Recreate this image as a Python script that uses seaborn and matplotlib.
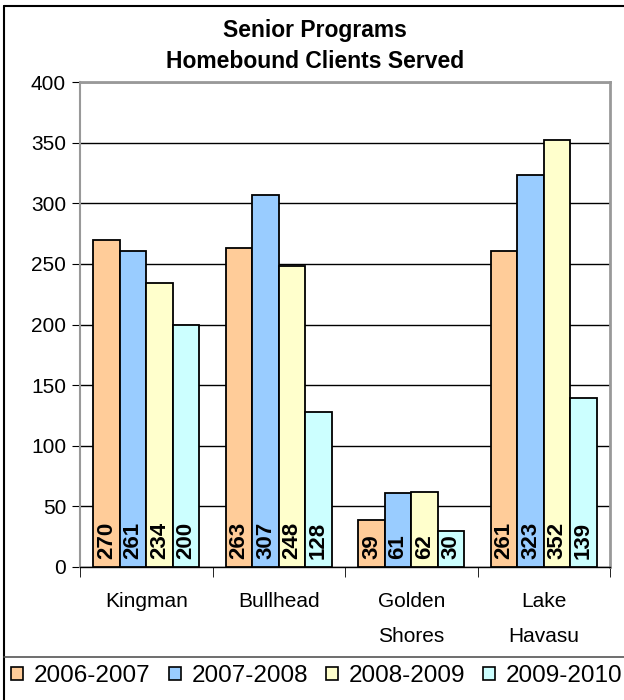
import pandas as pd
import seaborn as sns
import matplotlib.pyplot as plt
from matplotlib.lines import Line2D

# Data
locations = ["Kingman", "Bullhead", "Golden\nShores", "Lake\nHavasu"]
years = ["2006-2007", "2007-2008", "2008-2009", "2009-2010"]
clients_0607 = [270, 263, 39, 261]
clients_0708 = [261, 307, 61, 323]
clients_0809 = [234, 248, 62, 352]
clients_0910 = [200, 128, 30, 139]
colors = ["#FFCC99", "#99CCFF", "#FFFFCC", "#CCFFFF"]

df = pd.DataFrame({
    "Location": locations * 4,
    "Year": [y for y in years for _ in locations],
    "Clients": clients_0607 + clients_0708 + clients_0809 + clients_0910,
})

sns.set_style("white")
plt.rcParams["font.family"] = ["Liberation Sans", "DejaVu Sans"]
plt.rcParams["text.color"] = "black"
plt.rcParams["xtick.color"] = "black"
plt.rcParams["ytick.color"] = "black"
plt.rcParams["axes.labelcolor"] = "black"

fig = plt.figure(figsize=(6.24, 7), dpi=100)
ax = fig.add_axes([80 / 624, 1 - 567 / 700, 530 / 624, 485 / 700])

sns.barplot(data=df, x="Location", y="Clients", hue="Year", palette=colors,
            saturation=1, width=0.8, edgecolor="black", linewidth=1.3, ax=ax,
            legend=False, zorder=3)

ax.set_ylim(0, 400)
ax.set_yticks(range(0, 401, 50))
ax.yaxis.grid(True, color="black", linewidth=1, zorder=0)
ax.set_xlabel("")
ax.set_ylabel("")
for s in ["top", "right"]:
    ax.spines[s].set_color("#999999")
    ax.spines[s].set_linewidth(2)
ax.spines["left"].set_color("#999999")
ax.spines["left"].set_linewidth(1.5)
ax.spines["bottom"].set_color("black")
ax.spines["bottom"].set_linewidth(1)
ax.tick_params(axis="y", labelsize=15, length=6, direction="out", left=True,
               color="black", labelcolor="black", pad=4)
ax.tick_params(axis="x", labelsize=15, length=0, pad=18, labelcolor="black")
for lab in ax.get_xticklabels():
    lab.set_linespacing(2.1)
    lab.set_verticalalignment("top")
# tick marks between categories
ax.set_xticks([-0.5, 0.5, 1.5, 2.5, 3.5], minor=True)
ax.tick_params(axis="x", which="minor", length=7, bottom=True, color="black")

# value labels inside bars
for cont in ax.containers:
    for bar in cont:
        h = bar.get_height()
        ax.text(bar.get_x() + bar.get_width() / 2, 7, f"{int(h)}",
                rotation=90, ha="center", va="bottom", fontsize=16,
                fontweight="bold", color="black", zorder=5)

fig.text(0.505, 1 - 30 / 700, "Senior Programs", ha="center", va="center",
         fontsize=16.5, fontweight="bold")
fig.text(0.505, 1 - 62 / 700, "Homebound Clients Served", ha="center",
         va="center", fontsize=16.5, fontweight="bold")

handles = [plt.Rectangle((0, 0), 1, 1, facecolor=c, edgecolor="black",
                         linewidth=1.2) for c in colors]
fig.legend(handles, years, loc="center", bbox_to_anchor=(0.508, 1 - 676 / 700),
           ncol=4, frameon=False, fontsize=17.5, handlelength=0.49,
           handleheight=0.49, handletextpad=0.45, columnspacing=0.74,
           borderpad=0, borderaxespad=0)

# outer borders
fig.add_artist(Line2D([4 / 624, 4 / 624], [0, 1 - 6 / 700], color="black",
                      linewidth=1.5, transform=fig.transFigure))
fig.add_artist(Line2D([4 / 624, 1], [1 - 6 / 700, 1 - 6 / 700], color="black",
                      linewidth=1.5, transform=fig.transFigure))
fig.add_artist(Line2D([4 / 624, 1], [1 - 657 / 700, 1 - 657 / 700],
                      color="#555555", linewidth=1.2, transform=fig.transFigure))

plt.savefig("out.png", dpi=100)
plt.close()
